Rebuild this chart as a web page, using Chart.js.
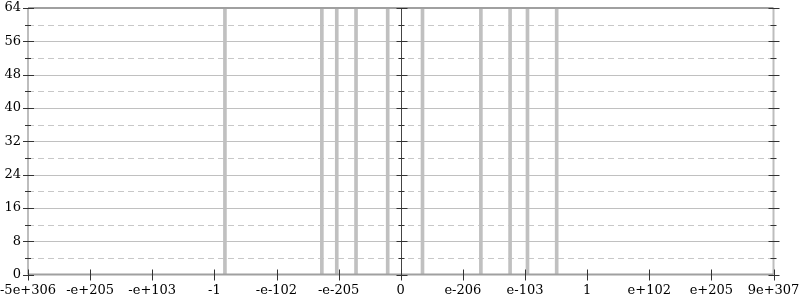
<!DOCTYPE html>
<html><head><meta charset="utf-8">
<script src="https://cdn.jsdelivr.net/npm/chart.js@4.4.1/dist/chart.umd.min.js"></script>
<style>html,body{margin:0;padding:0;background:#fff}#wrap{width:800px;height:300px}</style>
</head><body><div id="wrap"><canvas id="c" width="800" height="300"></canvas></div>
<script>
// x axis is a symmetric log-like scale; positions are in axis units (one unit = one labelled tick)
const xTickPositions = [-6,-5,-4,-3,-2,-1,0,1,2,3,4,5,6];
const xTickLabels = ['-5e+306','-e+205','-e+103','-1','-e-102','-e-205','0','e-206','e-103','1','e+102','e+205','9e+307'];
const yTickValues = [0,8,16,24,32,40,48,56,64];
const yMinorValues = [4,12,20,28,36,44,52,60];
const barPositions = [-2.83,-1.27,-1.03,-0.72,-0.21,0.35,1.29,1.76,2.04,2.51];
const barValues = [64,64,64,64,64,64,64,64,64,64];

const FONT = "'DejaVu Serif', serif";

const decor = {
  id: 'decor',
  beforeDatasetsDraw(chart) {
    const {ctx, chartArea: a, scales: {y}} = chart;
    ctx.save();
    ctx.lineWidth = 1;
    yTickValues.forEach(v => {
      if (v === 0 || v === 64) return;
      const py = Math.round(y.getPixelForValue(v)) + 0.5;
      ctx.setLineDash([]); ctx.strokeStyle = '#c0c0c0';
      ctx.beginPath(); ctx.moveTo(a.left, py); ctx.lineTo(a.right, py); ctx.stroke();
    });
    yMinorValues.forEach(v => {
      const py = Math.round(y.getPixelForValue(v)) + 0.5;
      ctx.setLineDash([6, 4]); ctx.strokeStyle = '#c8c8c8';
      ctx.beginPath(); ctx.moveTo(a.left, py); ctx.lineTo(a.right, py); ctx.stroke();
    });
    ctx.restore();
  },
  afterDatasetsDraw(chart) {
    const {ctx, chartArea: a, scales: {x, y}} = chart;
    ctx.save();
    ctx.setLineDash([]);
    ctx.lineWidth = 2;
    ctx.strokeStyle = '#bdbdbd';
    ctx.beginPath(); ctx.moveTo(a.left, a.top); ctx.lineTo(a.left, a.bottom); ctx.stroke();
    ctx.beginPath(); ctx.moveTo(a.right, a.top); ctx.lineTo(a.right, a.bottom); ctx.stroke();
    ctx.strokeStyle = '#a0a0a0';
    ctx.beginPath(); ctx.moveTo(a.left, a.top); ctx.lineTo(a.right, a.top); ctx.stroke();
    ctx.beginPath(); ctx.moveTo(a.left, a.bottom); ctx.lineTo(a.right, a.bottom); ctx.stroke();
    const zx = Math.round(x.getPixelForValue(0)) + 0.5;
    ctx.lineWidth = 1;
    ctx.strokeStyle = '#444';
    ctx.beginPath(); ctx.moveTo(zx, a.top); ctx.lineTo(zx, a.bottom); ctx.stroke();
    ctx.strokeStyle = '#333';
    const cols = [a.left, zx, a.right];
    yTickValues.forEach(v => {
      const py = Math.round(y.getPixelForValue(v)) + 0.5;
      cols.forEach(cx => { ctx.beginPath(); ctx.moveTo(cx - 5, py); ctx.lineTo(cx + 6, py); ctx.stroke(); });
    });
    yMinorValues.forEach(v => {
      const py = Math.round(y.getPixelForValue(v)) + 0.5;
      cols.forEach(cx => { ctx.beginPath(); ctx.moveTo(cx - 3, py); ctx.lineTo(cx + 3, py); ctx.stroke(); });
    });
    xTickPositions.forEach(v => {
      const px = Math.round(x.getPixelForValue(v)) + 0.5;
      ctx.beginPath(); ctx.moveTo(px, a.bottom - 5); ctx.lineTo(px, a.bottom + 6); ctx.stroke();
    });
    ctx.restore();
  }
};

new Chart(document.getElementById('c'), {
  type: 'bar',
  data: {
    datasets: [{
      data: barPositions.map((p, i) => ({x: p, y: barValues[i]})),
      backgroundColor: '#c0c0c0',
      borderWidth: 0,
      barThickness: 3
    }]
  },
  options: {
    responsive: false,
    animation: false,
    devicePixelRatio: 1,
    layout: {padding: {top: 8, right: 26.5, left: 0, bottom: 0}},
    plugins: {legend: {display: false}, tooltip: {enabled: false}},
    scales: {
      x: {
        type: 'linear', min: -6, max: 6, offset: false,
        grid: {display: false, drawTicks: false, offset: false}, border: {display: false},
        afterBuildTicks: s => { s.ticks = xTickPositions.map(v => ({value: v})); },
        afterFit: s => { s.height = 25.5; s.paddingLeft = 0; s.paddingRight = 0; },
        ticks: {
          autoSkip: false, maxRotation: 0, minRotation: 0, padding: 8,
          color: '#000', font: {family: FONT, size: 13},
          callback: v => xTickLabels[xTickPositions.indexOf(v)]
        }
      },
      y: {
        type: 'linear', min: 0, max: 64,
        grid: {display: false, drawTicks: false}, border: {display: false},
        afterBuildTicks: s => { s.ticks = yTickValues.map(v => ({value: v})); },
        afterFit: s => { s.width = 28; s.paddingTop = 0; s.paddingBottom = 0; },
        ticks: {padding: 7, color: '#000', font: {family: FONT, size: 13}}
      }
    }
  },
  plugins: [decor]
});
</script>
</body></html>
